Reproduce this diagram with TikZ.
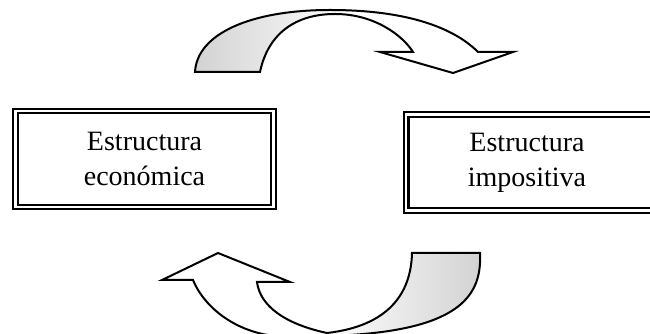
\documentclass[tikz,border=0pt]{standalone}
\usepackage{fontspec}
\setmainfont{Liberation Serif}
\tikzset{
  estbox/.style={draw, double, double distance=2.4pt, line width=2.2pt, minimum height=96pt, inner sep=0pt},
  esttext/.style={align=center, font=\fontsize{28}{35}\selectfont},
  bigarrow/.style={draw, line width=2pt, line join=miter},
}
\begin{document}
\begin{tikzpicture}[x=1pt,y=1pt]
\useasboundingbox (0,0) rectangle (650,334);

\node[estbox, esttext, minimum width=258pt] (eco) at (144.5,175) {Estructura\\económica};
\node[estbox, minimum width=300pt, anchor=west] (imp) at (405,171.5) {};
\node[esttext] (imptext) at (527,171.5) {Estructura\\impositiva};

\shadedraw[bigarrow, left color=gray!35, right color=white, middle color=white]
  (195,262) -- (260,262) .. controls (268,300) and (295,320) .. (335,320)
  .. controls (375,320) and (403,298) .. (413,282) -- (380,282) -- (453,261) -- (513,282) -- (478,282)
  .. controls (455,305) and (410,324) .. (330,324) .. controls (250,324) and (197,300) .. cycle;

\shadedraw[bigarrow, left color=white, right color=gray!35, middle color=white]
  (480,81) -- (412,81) .. controls (411,40) and (388,8) .. (327,1)
  .. controls (285,10) and (260,28) .. (257,52) -- (290,52) -- (218,81) -- (162,54) -- (193,54)
  .. controls (205,25) and (240,-3) .. (290,-3) -- (350,-1) .. controls (462,6) and (482,40) .. cycle;
\end{tikzpicture}
\end{document}
